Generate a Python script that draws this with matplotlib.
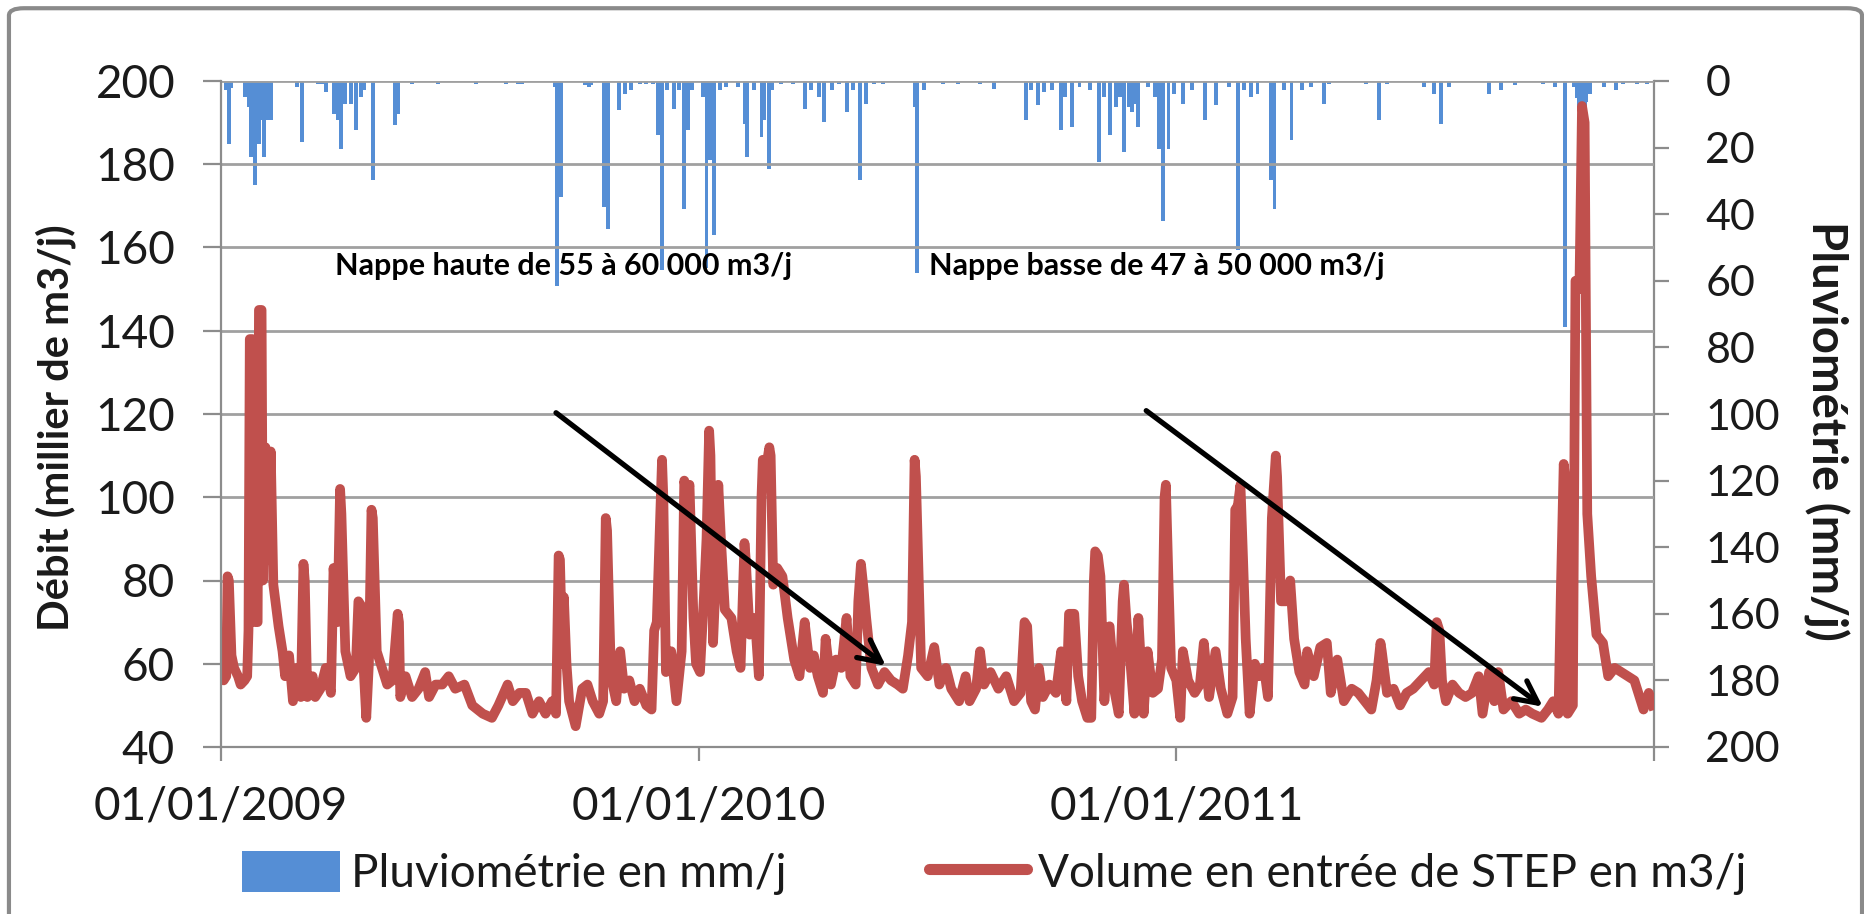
import numpy as np
import pandas as pd
import matplotlib
matplotlib.use("Agg")
import matplotlib.pyplot as plt
from matplotlib.patches import FancyBboxPatch
from matplotlib.lines import Line2D
from matplotlib.patches import Patch

plt.rcParams['font.family'] = ['Lato', 'DejaVu Sans']

# --- data (day offset from 01/01/2009, value) ---
start = pd.Timestamp('2009-01-01')

flow_days = [0, 2, 4, 5, 6, 8, 10, 13, 15, 18, 20, 21, 22, 24, 26, 28, 29, 31, 32, 34, 36, 38, 40,
             44, 47, 49, 52, 55, 58, 61, 63, 64, 66, 70, 72, 76, 80, 84, 86, 89, 91, 92, 95, 99,
             103, 105, 107, 108, 111, 113, 115, 116, 119, 123, 127, 131, 135, 136, 137, 141, 146,
             151, 156, 159, 164, 169, 174, 179, 186, 192, 200, 207, 212, 219, 223, 228, 233, 238,
             243, 248, 253, 256, 258, 259, 261, 262, 264, 266, 271, 276,
             280, 284, 289, 292, 294, 295, 298, 302, 305, 308, 312, 316, 320, 325, 329, 331, 333,
             337, 338, 340, 344, 348, 352, 354, 356, 358, 361, 363, 366, 369, 371, 373, 374, 376,
             378, 380, 382, 385, 390, 394, 397, 400, 401, 404, 408, 411, 413, 414, 417, 419, 420,
             422, 425, 429, 433, 438, 442, 446, 450, 453, 456, 460, 462, 466, 470, 474, 478, 481,
             485, 487, 489, 491, 493, 497, 502, 507, 512, 517, 521, 525, 528, 530, 531, 535, 540,
             545, 549,
             554, 558, 564, 569, 572, 577, 580, 583, 588, 594, 600, 606, 611, 614, 616, 619, 622,
             625, 628, 633, 638, 642, 646, 648, 652, 655, 658, 662, 665, 667, 668, 670, 672, 675,
             679, 683, 686, 689, 690, 692, 694, 698, 701, 705, 708, 712, 716, 719, 721, 722, 724,
             726, 730, 733, 735, 739, 744, 748, 751, 755, 760, 764, 769, 773, 775, 777, 779, 781,
             783, 786, 790, 793, 797, 800, 803, 806, 807, 810, 814, 817, 820, 824,
             828, 830, 835, 840, 845, 848, 853, 858, 864, 869, 874, 879, 883, 886, 887, 891, 896,
             901, 906, 911, 917, 923, 927, 929, 931, 933, 936, 941, 946, 951, 956, 961, 964, 969,
             973, 976, 980, 986, 992, 997, 1002, 1009, 1014, 1018, 1022, 1024, 1026, 1027, 1029,
             1033, 1035, 1038, 1040, 1042, 1044, 1047, 1051, 1056, 1060, 1065, 1070, 1075, 1080,
             1085, 1087, 1091, 1094]
flow_vals = [57, 56, 57, 81, 80, 62, 59, 57, 55, 56, 57, 68, 138, 138, 70, 70, 145, 145, 80, 112, 85, 111, 79,
             69, 63, 57, 62, 51, 59, 52, 84, 80, 52, 57, 52, 54, 59, 53, 83, 70, 102, 96, 63, 57,
             59, 75, 74, 65, 47, 60, 97, 95, 63, 59, 55, 56, 72, 70, 52, 57, 52,
             54, 58, 52, 55, 55, 57, 54, 55, 50, 48, 47, 50, 55, 51, 53, 53, 48,
             51, 48, 51, 48, 86, 85, 60, 76, 60, 51, 45, 54,
             55, 51, 48, 51, 95, 92, 57, 51, 63, 54, 56, 51, 54, 50, 49, 68, 70,
             109, 100, 58, 63, 51, 63, 104, 100, 103, 71, 60, 58, 76, 90, 116, 110, 65,
             80, 103, 90, 73, 71, 63, 59, 89, 85, 67, 71, 57, 100, 109, 108, 112, 110,
             79, 83, 81, 71, 61, 57, 70, 59, 62, 57, 53, 66, 55, 61, 59, 71, 57,
             55, 75, 84, 78, 71, 59, 55, 58, 56, 55, 54, 62, 70, 109, 105, 59, 57,
             64, 55,
             59, 54, 51, 57, 51, 54, 63, 55, 58, 54, 57, 51, 53, 70, 69, 51, 49,
             59, 52, 55, 53, 63, 51, 72, 72, 57, 51, 47, 47, 80, 87, 86, 81, 51,
             69, 53, 48, 75, 79, 70, 64, 48, 71, 48, 63, 53, 54, 61, 100, 103, 80,
             59, 56, 47, 63, 56, 53, 55, 65, 52, 63, 54, 48, 52, 97, 98, 103, 85,
             66, 48, 60, 57, 59, 52, 95, 110, 105, 75, 75, 80, 66, 58,
             55, 63, 57, 64, 65, 53, 61, 51, 54, 53, 51, 49, 56, 65, 63, 53, 54,
             50, 53, 54, 56, 58, 55, 70, 68, 56, 51, 55, 53, 52, 53, 57, 48, 58,
             51, 58, 49, 51, 48, 49, 48, 47, 49, 51, 48, 80, 108, 105, 48,
             50, 152, 150, 194, 190, 96, 81, 67, 65, 57, 59, 58, 57, 56,
             51, 49, 53, 50]

rain_days = [4, 6, 8, 18, 21, 23, 26, 29, 31, 33, 36, 38, 58, 62, 74, 77, 80, 86, 89, 92, 95, 99,
             103, 107, 109, 116, 133, 135, 146, 166, 195, 218, 227, 230, 255, 257, 260, 278, 281,
             283, 293, 296, 304, 309, 313, 320, 325, 330, 334, 337, 341, 346, 350, 354, 357, 360,
             368, 371, 374, 377, 381, 386, 395, 400, 402, 407, 413, 415, 419, 421, 428, 437, 446,
             451, 457, 461, 467, 472, 478, 483, 488, 493, 499, 506, 530, 532, 537,
             552, 563, 580, 591, 615, 619, 624, 629, 635, 642, 645, 650, 656, 664, 671, 675, 679,
             684, 687, 690, 694, 696, 699, 701, 708, 714, 717, 720, 724, 728, 735, 742, 752, 760,
             770, 777, 782, 787, 792, 802, 805, 812, 818, 826, 833, 843, 847, 875, 885, 891, 919,
             927, 932, 938, 969, 978, 989, 1010, 1019, 1027, 1034, 1036, 1038, 1040, 1042, 1043,
             1046, 1057, 1066, 1071, 1082, 1090]
rain_mm = [2.8, 18.8, 2.0, 4.8, 7.8, 22.8, 31.3, 18.8, 11.8, 22.8, 11.8, 11.8, 1.8, 18.3, 0.8, 1.0,
           3.3, 9.8, 11.8, 20.3, 6.8, 6.8, 14.8, 4.8, 2.8, 29.8, 13.3, 9.8, 0.8, 0.8, 0.8, 0.8, 0.8,
           0.8, 1.8, 61.6, 34.8, 1.3, 1.8, 1.3, 37.8, 44.3, 8.8, 3.8, 2.8, 0.8, 0.8, 0.8, 16.3, 56.8,
           2.8, 8.3, 2.8, 38.3, 14.8, 2.8, 4.8, 56.3, 23.8, 46.3, 2.8, 1.8, 1.8, 12.8, 22.8, 2.8,
           16.8, 11.8, 26.3, 2.8, 0.8, 0.8, 8.3, 2.8, 4.8, 12.3, 2.8, 0.8, 9.3, 2.8, 29.8, 6.8, 0.8,
           0.8, 7.8, 57.8, 2.8,
           0.8, 0.8, 0.8, 2.3, 11.8, 2.8, 7.3, 3.3, 2.8, 14.6, 4.8, 13.8, 1.8, 2.8, 24.3, 4.8, 16.3,
           7.8, 4.8, 21.3, 7.8, 9.3, 6.8, 13.8, 1.8, 4.8, 20.3, 42.0, 20.3, 3.8, 6.8, 2.8, 11.8, 7.3,
           1.8, 50.8, 2.8, 4.8, 3.8, 29.8, 38.3, 2.8, 17.6, 2.8, 1.8, 6.8, 0.8, 0.8, 11.8, 0.8, 1.8,
           3.8, 12.8, 1.8, 3.8, 2.8, 1.3, 0.8, 1.8, 73.8, 1.8, 5.0, 8.0, 14.8, 8.0, 6.3,
           3.8, 1.8, 2.8, 0.8, 0.8, 0.8]

year_ticks = ['2009-01-01', '2010-01-01', '2011-01-01']
year_labels = ['01/01/2009', '01/01/2010', '01/01/2011']

# annotation arrows (start day, start value, end day, end value)
arrow_hi = (256, 120.3, 508, 59.5)
arrow_lo = (707, 120.8, 1010, 49.7)

flow_dates = start + pd.to_timedelta(flow_days, unit='D')
rain_dates = start + pd.to_timedelta(rain_days, unit='D')

blue = '#558ED5'
red = '#C0504D'
grey = '#A0A0A0'
txt = '#1a1a1a'

fig = plt.figure(figsize=(18.65, 9.14), dpi=100)
ax = fig.add_axes([221 / 1865, 1 - 747 / 914, (1654 - 221) / 1865, (747 - 81) / 914])
ax2 = ax.twinx()

# rainfall bars hanging from the top (inverted right axis)
ax2.bar(rain_dates, rain_mm, width=3, color=blue, linewidth=0)
ax2.set_ylim(200, 0)
ax2.set_yticks(np.arange(0, 201, 20))

# flow line on top of the bars
ax.set_zorder(ax2.get_zorder() + 1)
ax.patch.set_visible(False)
ax.plot(flow_dates, flow_vals, color=red, lw=7, solid_joinstyle='round')
ax.set_ylim(40, 200)
ax.set_yticks(np.arange(40, 201, 20))
ax.set_xlim(start, start + pd.Timedelta(days=1095))
ax.set_xticks(pd.to_datetime(year_ticks))
ax.set_xticklabels(year_labels)
ax.set_xticks([start + pd.Timedelta(days=1095)], minor=True)
ax.grid(axis='y', color=grey, lw=2)

for a in (ax, ax2):
    for s in a.spines.values():
        s.set_visible(False)
ax.spines['left'].set_visible(True)
ax.spines['bottom'].set_visible(True)
ax2.spines['right'].set_visible(True)
for s in (ax.spines['left'], ax.spines['bottom'], ax2.spines['right']):
    s.set_color('#8c8c8c')
    s.set_linewidth(1.6)

ax.tick_params(axis='y', length=13, width=1.6, color='#8c8c8c', labelsize=33, labelcolor=txt, pad=20)
ax.tick_params(axis='x', which='both', length=10, width=1.6, color='#8c8c8c', labelsize=33,
               labelcolor=txt, pad=18)
ax2.tick_params(axis='y', length=11, width=1.6, color='#8c8c8c', labelsize=31, labelcolor=txt, pad=26)

fig.text(56 / 1865, 1 - 428 / 914, 'Débit (millier de m3/j)', rotation=90, fontsize=30,
         fontweight='bold', ha='center', va='center', color=txt)
fig.text(1826 / 1865, 1 - 431 / 914, 'Pluviométrie (mm/j)', rotation=270, fontsize=34,
         fontweight='bold', ha='center', va='center', color=txt)

# annotations
ax.text(start + pd.Timedelta(days=87), 155.6, 'Nappe haute de 55 à 60 000 m3/j', fontsize=22,
        fontweight='bold', va='center', ha='left', color='black')
ax.text(start + pd.Timedelta(days=541), 155.6, 'Nappe basse de 47 à 50 000 m3/j', fontsize=22,
        fontweight='bold', va='center', ha='left', color='black')
for d0, v0, d1, v1 in (arrow_hi, arrow_lo):
    ax.annotate('', xy=(start + pd.Timedelta(days=d1), v1),
                xytext=(start + pd.Timedelta(days=d0), v0),
                arrowprops=dict(arrowstyle='->', lw=3.8, color='black', mutation_scale=40,
                                shrinkA=0, shrinkB=0))

# legend
h_bar = Patch(facecolor=blue, edgecolor='none')
h_line = Line2D([], [], color=red, lw=8, solid_capstyle='round')
fig.legend([h_bar, h_line], ['Pluviométrie en mm/j', 'Volume en entrée de STEP en m3/j'],
           loc='center', bbox_to_anchor=(0.533, 0.045), ncol=2, frameon=False, fontsize=33,
           handlelength=2.14, handleheight=1.0, handletextpad=0.24, columnspacing=3.1,
           labelcolor=txt)

# outer chart frame
frame = FancyBboxPatch((0.0048, -0.05), 0.9936, 1.041, boxstyle='round,pad=0,rounding_size=0.008',
                       transform=fig.transFigure, fill=False, edgecolor='#8a8a8a', lw=3)
fig.patches.append(frame)

fig.savefig('out.png', dpi=100, facecolor='white')
